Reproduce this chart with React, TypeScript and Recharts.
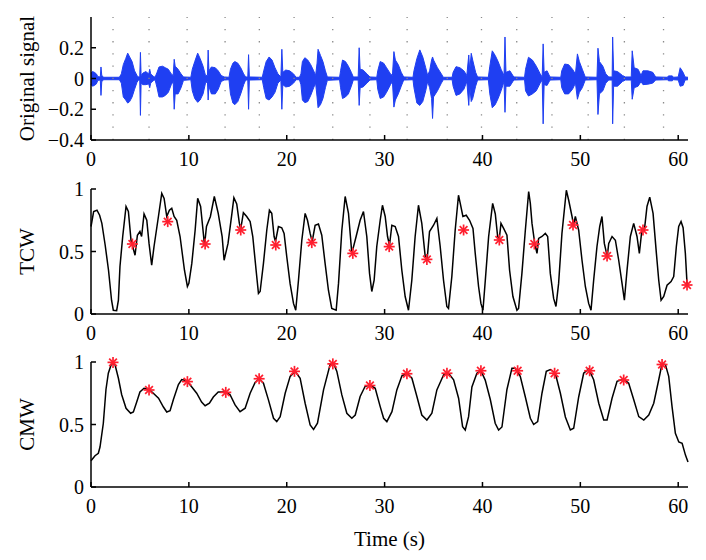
import React from "react";
import { ComposedChart, Line, Area, Scatter, XAxis, YAxis, ReferenceLine } from "recharts";

const FONT = "'Liberation Serif', 'Times New Roman', serif";
const BLUE = "#1f3ff2";
const RED = "#ff1f2f";

const timeTicks = [0, 10, 20, 30, 40, 50, 60];
const signalTicks = [-0.4, -0.2, 0, 0.2];
const unitTicks = [0, 0.5, 1];

// dotted guide lines in the top panel (s)
const gridTimes = [2.25, 5.93, 9.82, 13.7, 17.2, 20.75, 24.7, 28.5, 32.3, 36.4, 39.9, 43.5, 47.1, 50.8, 54.5, 58.5];

// [time, upper envelope, lower envelope]
const signalEnvelope: [number, number, number][] = [
  [0, 0.035, -0.04], [0.15, 0.045, -0.05], [0.35, 0.04, -0.045], [0.55, 0.03, -0.035], [0.7, 0.012, -0.012],
  [0.95, 0.01, -0.01], [1.02, 0.075, -0.11], [1.1, 0.02, -0.02], [1.3, 0.008, -0.008], [2.9, 0.008, -0.008],
  [3.1, 0.03, -0.03], [3.3, 0.09, -0.12], [3.55, 0.13, -0.14], [3.75, 0.165, -0.16], [3.95, 0.14, -0.15],
  [4.2, 0.11, -0.12], [4.45, 0.05, -0.07], [4.7, 0.02, -0.025], [4.85, 0.01, -0.01], [4.98, 0.01, -0.01],
  [5.05, 0.17, -0.24], [5.12, 0.02, -0.03], [5.3, 0.035, -0.04], [5.6, 0.045, -0.04], [5.9, 0.03, -0.035],
  [6.0, 0.06, -0.06], [6.1, 0.03, -0.03], [6.35, 0.015, -0.015], [6.55, 0.008, -0.008],
  [6.75, 0.04, -0.06], [6.95, 0.075, -0.12], [7.3, 0.08, -0.12], [7.6, 0.07, -0.11], [7.9, 0.06, -0.09],
  [8.2, 0.03, -0.04], [8.4, 0.02, -0.02], [8.5, 0.125, -0.2], [8.6, 0.08, -0.1], [8.9, 0.06, -0.1],
  [9.2, 0.03, -0.06], [9.45, 0.01, -0.012], [10.2, 0.008, -0.008],
  [10.35, 0.06, -0.08], [10.6, 0.11, -0.13], [10.9, 0.165, -0.155], [11.15, 0.13, -0.14], [11.45, 0.08, -0.1],
  [11.7, 0.02, -0.03], [11.9, 0.02, -0.02], [11.97, 0.185, -0.14], [12.05, 0.05, -0.05], [12.3, 0.075, -0.1],
  [12.7, 0.07, -0.1], [13.0, 0.05, -0.07], [13.3, 0.02, -0.02], [13.6, 0.01, -0.01], [14.1, 0.008, -0.008],
  [14.25, 0.06, -0.1], [14.5, 0.1, -0.16], [14.7, 0.11, -0.17], [15.0, 0.1, -0.15], [15.3, 0.07, -0.1],
  [15.6, 0.03, -0.04], [15.8, 0.01, -0.01], [16.02, 0.01, -0.01], [16.1, 0.155, -0.2], [16.18, 0.01, -0.01],
  [17.5, 0.008, -0.008],
  [17.65, 0.05, -0.06], [17.9, 0.11, -0.13], [18.2, 0.14, -0.14], [18.5, 0.12, -0.12], [18.8, 0.07, -0.09],
  [19.1, 0.03, -0.03], [19.4, 0.01, -0.01], [19.5, 0.19, -0.2], [19.6, 0.04, -0.04], [19.9, 0.055, -0.055],
  [20.3, 0.05, -0.05], [20.7, 0.03, -0.03], [20.95, 0.008, -0.008], [21.3, 0.008, -0.008],
  [21.45, 0.03, -0.04], [21.6, 0.11, -0.14], [21.85, 0.135, -0.157], [22.15, 0.12, -0.15], [22.45, 0.09, -0.11],
  [22.75, 0.05, -0.06], [22.95, 0.02, -0.03], [23.1, 0.1, -0.12], [23.2, 0.19, -0.19], [23.45, 0.15, -0.17],
  [23.7, 0.11, -0.13], [23.95, 0.05, -0.06], [24.15, 0.01, -0.012], [25.4, 0.008, -0.008],
  [25.5, 0.05, -0.06], [25.7, 0.12, -0.13], [26.0, 0.11, -0.12], [26.3, 0.08, -0.1], [26.6, 0.04, -0.05],
  [26.8, 0.01, -0.01], [27.3, 0.01, -0.01], [27.4, 0.2, -0.175], [27.5, 0.06, -0.06], [27.8, 0.055, -0.055],
  [28.2, 0.03, -0.03], [28.5, 0.01, -0.01], [29.2, 0.008, -0.008],
  [29.3, 0.05, -0.07], [29.55, 0.11, -0.13], [29.9, 0.1, -0.12], [30.2, 0.07, -0.09], [30.6, 0.03, -0.04],
  [30.8, 0.02, -0.02], [30.95, 0.175, -0.186], [31.1, 0.12, -0.14], [31.4, 0.09, -0.1], [31.7, 0.04, -0.05],
  [31.95, 0.01, -0.01], [32.9, 0.008, -0.008],
  [33.0, 0.05, -0.06], [33.3, 0.13, -0.16], [33.6, 0.186, -0.175], [33.9, 0.14, -0.15], [34.2, 0.07, -0.08],
  [34.4, 0.02, -0.02], [34.6, 0.05, -0.06], [34.8, 0.12, -0.13], [34.9, 0.14, -0.26], [35.0, 0.12, -0.12],
  [35.4, 0.07, -0.08], [35.8, 0.03, -0.03], [36.0, 0.008, -0.008], [36.9, 0.008, -0.008],
  [37.0, 0.04, -0.05], [37.3, 0.077, -0.11], [37.7, 0.07, -0.1], [38.1, 0.05, -0.07], [38.4, 0.02, -0.02],
  [38.6, 0.153, -0.175], [38.7, 0.05, -0.05], [38.85, 0.164, -0.15], [39.0, 0.12, -0.13], [39.3, 0.04, -0.05],
  [39.5, 0.01, -0.01], [40.6, 0.008, -0.008],
  [40.75, 0.08, -0.1], [41.0, 0.18, -0.19], [41.3, 0.15, -0.17], [41.6, 0.11, -0.13], [41.9, 0.06, -0.08],
  [42.2, 0.02, -0.02], [42.3, 0.27, -0.22], [42.4, 0.04, -0.05], [42.8, 0.05, -0.05], [43.2, 0.01, -0.01],
  [44.3, 0.008, -0.008],
  [44.4, 0.06, -0.08], [44.7, 0.138, -0.114], [45.1, 0.12, -0.1], [45.5, 0.08, -0.08], [45.9, 0.03, -0.03],
  [46.1, 0.01, -0.01], [46.2, 0.225, -0.295], [46.3, 0.04, -0.04], [46.6, 0.05, -0.045], [46.9, 0.01, -0.01],
  [48.0, 0.008, -0.008],
  [48.1, 0.05, -0.06], [48.4, 0.094, -0.1], [48.8, 0.09, -0.1], [49.2, 0.06, -0.07], [49.5, 0.03, -0.03],
  [49.7, 0.16, -0.135], [49.9, 0.11, -0.09], [50.2, 0.06, -0.06], [50.5, 0.01, -0.01], [51.7, 0.008, -0.008],
  [51.8, 0.197, -0.234], [51.95, 0.11, -0.1], [52.3, 0.08, -0.08], [52.6, 0.03, -0.03], [52.9, 0.01, -0.01],
  [53.25, 0.01, -0.01], [53.3, 0.27, -0.295], [53.4, 0.05, -0.05], [53.8, 0.045, -0.05], [54.3, 0.02, -0.02],
  [54.6, 0.01, -0.01], [55.2, 0.01, -0.01], [55.3, 0.18, -0.135], [55.5, 0.07, -0.06], [55.9, 0.06, -0.05],
  [56.2, 0.02, -0.02], [56.4, 0.05, -0.04], [56.9, 0.05, -0.037], [57.4, 0.04, -0.03], [57.7, 0.01, -0.01],
  [58.9, 0.008, -0.008], [59.0, 0.017, -0.015], [59.4, 0.017, -0.015], [59.5, 0.008, -0.008],
  [60.0, 0.01, -0.01], [60.2, 0.07, -0.05], [60.5, 0.04, -0.045], [60.7, 0.01, -0.01], [61, 0.008, -0.008],
];

const tcwCurve: [number, number][] = [
  [0, 0.7], [0.27, 0.82], [0.61, 0.83], [0.88, 0.79], [1.11, 0.725], [1.45, 0.55], [1.79, 0.35], [2.1, 0.11],
  [2.28, 0.03], [2.62, 0.027], [2.8, 0.11], [2.96, 0.38], [3.24, 0.62], [3.58, 0.86], [3.82, 0.82], [4.09, 0.59],
  [4.5, 0.47], [4.74, 0.63], [5.0, 0.66], [5.17, 0.62], [5.42, 0.8], [5.7, 0.75], [5.93, 0.565], [6.2, 0.39],
  [6.44, 0.54], [6.89, 0.78], [7.23, 0.965], [7.47, 0.925], [7.74, 0.78], [8.01, 0.83], [8.25, 0.845],
  [8.49, 0.78], [8.76, 0.75], [9.1, 0.62], [9.55, 0.35], [9.85, 0.22], [10.0, 0.245], [10.3, 0.405],
  [10.64, 0.67], [10.9, 0.925], [11.2, 0.86], [11.6, 0.55], [11.8, 0.7], [12.2, 0.78], [12.6, 0.94],
  [13.0, 0.805], [13.4, 0.62], [13.6, 0.43], [14.0, 0.565], [14.4, 0.805], [14.6, 0.93], [14.89, 0.88],
  [15.16, 0.725], [15.3, 0.68], [15.57, 0.81], [15.91, 0.78], [16.26, 0.74], [16.53, 0.62], [16.87, 0.35],
  [17.11, 0.165], [17.28, 0.18], [17.62, 0.405], [17.96, 0.67], [18.23, 0.83], [18.47, 0.805], [18.71, 0.62],
  [18.85, 0.58], [19.15, 0.7], [19.49, 0.69], [19.73, 0.645], [20.0, 0.46], [20.34, 0.245], [20.69, 0.085],
  [20.92, 0.03], [21.2, 0.27], [21.54, 0.59], [21.88, 0.805], [22.12, 0.75], [22.39, 0.645], [22.6, 0.58],
  [22.9, 0.71], [23.24, 0.72], [23.58, 0.63], [23.92, 0.405], [24.26, 0.19], [24.6, 0.045], [25.05, 0.03],
  [25.29, 0.245], [25.63, 0.67], [25.97, 0.94], [26.31, 0.805], [26.65, 0.485], [27.09, 0.62], [27.5, 0.75],
  [27.84, 0.82], [28.18, 0.62], [28.46, 0.325], [28.69, 0.18], [28.93, 0.27], [29.2, 0.54], [29.55, 0.75],
  [29.78, 0.87], [30.06, 0.78], [30.3, 0.62], [30.5, 0.55], [30.74, 0.71], [31.08, 0.7], [31.42, 0.62],
  [31.76, 0.35], [32.1, 0.14], [32.44, 0.03], [32.78, 0.27], [33.12, 0.62], [33.46, 0.87], [33.8, 0.725],
  [34.15, 0.46], [34.35, 0.44], [34.59, 0.66], [35.0, 0.71], [35.34, 0.765], [35.68, 0.54], [36.02, 0.27],
  [36.36, 0.06], [36.53, 0.045], [36.87, 0.3], [37.21, 0.67], [37.55, 0.95], [37.73, 0.885], [38.0, 0.78],
  [38.34, 0.79], [38.68, 0.75], [39.03, 0.685], [39.26, 0.485], [39.6, 0.22], [39.84, 0.085], [40.05, 0.03],
  [40.29, 0.27], [40.63, 0.62], [41.04, 0.885], [41.31, 0.8], [41.55, 0.62], [41.7, 0.59], [41.89, 0.725],
  [42.16, 0.685], [42.5, 0.63], [42.77, 0.35], [43.11, 0.14], [43.52, 0.03], [43.69, 0.045], [44.03, 0.325],
  [44.38, 0.67], [44.72, 0.98], [44.89, 0.885], [45.06, 0.725], [45.35, 0.56], [45.57, 0.485], [45.74, 0.605],
  [46.08, 0.62], [46.42, 0.645], [46.66, 0.62], [46.93, 0.325], [47.27, 0.125], [47.51, 0.06], [47.78, 0.245],
  [48.12, 0.645], [48.57, 0.99], [48.81, 0.91], [49.15, 0.78], [49.3, 0.71], [49.49, 0.78], [49.83, 0.67],
  [50.17, 0.43], [50.51, 0.22], [50.85, 0.085], [51.09, 0.03], [51.36, 0.27], [51.7, 0.54], [51.98, 0.7],
  [52.21, 0.78], [52.45, 0.565], [52.75, 0.46], [52.9, 0.565], [53.24, 0.62], [53.58, 0.59], [53.92, 0.43],
  [54.26, 0.245], [54.5, 0.11], [54.77, 0.35], [55.11, 0.62], [55.45, 0.725], [55.79, 0.62], [56.03, 0.485],
  [56.3, 0.68], [56.54, 0.67], [56.81, 0.86], [57.09, 0.935], [57.43, 0.805], [57.77, 0.485], [58.01, 0.27],
  [58.25, 0.11], [58.52, 0.14], [58.86, 0.23], [59.27, 0.26], [59.54, 0.3], [59.81, 0.54], [60.05, 0.7],
  [60.29, 0.74], [60.5, 0.69], [60.73, 0.485], [60.9, 0.245], [61.0, 0.23],
];

const tcwMarks: [number, number][] = [
  [4.23, 0.56], [7.84, 0.739], [11.66, 0.56], [15.3, 0.672], [18.88, 0.552], [22.56, 0.571], [26.75, 0.485],
  [30.47, 0.539], [34.32, 0.437], [38.07, 0.672], [41.72, 0.592], [45.3, 0.56], [49.25, 0.712], [52.73, 0.464],
  [56.4, 0.672], [60.9, 0.232],
];

const cmwCurve: [number, number][] = [
  [0, 0.21], [0.41, 0.25], [0.75, 0.27], [0.92, 0.32], [1.26, 0.51], [1.53, 0.78], [1.77, 0.91], [2.11, 0.99],
  [2.45, 0.98], [2.8, 0.87], [3.13, 0.74], [3.58, 0.63], [4.05, 0.59], [4.33, 0.6], [4.67, 0.68], [5.0, 0.76],
  [5.42, 0.79], [5.93, 0.78], [6.37, 0.75], [6.9, 0.71], [7.4, 0.64], [7.74, 0.6], [8.08, 0.61], [8.42, 0.7],
  [8.93, 0.82], [9.27, 0.86], [9.78, 0.85], [10.3, 0.8], [10.8, 0.75], [11.3, 0.68], [11.66, 0.65], [12.1, 0.67],
  [12.5, 0.72], [13.0, 0.76], [13.7, 0.76], [14.2, 0.74], [14.72, 0.657], [15.23, 0.603], [15.75, 0.63],
  [16.26, 0.75], [16.77, 0.836], [17.18, 0.866], [17.62, 0.83], [18.13, 0.697], [18.65, 0.55], [18.98, 0.523],
  [19.33, 0.563], [19.84, 0.75], [20.35, 0.885], [20.86, 0.925], [21.37, 0.87], [21.88, 0.67], [22.39, 0.496],
  [22.74, 0.461], [23.14, 0.51], [23.76, 0.777], [24.43, 0.98], [24.78, 0.99], [25.12, 0.925], [25.63, 0.737],
  [26.14, 0.59], [26.65, 0.55], [27.0, 0.576], [27.5, 0.724], [28.0, 0.804], [28.5, 0.818], [29.04, 0.79],
  [29.55, 0.643], [29.9, 0.55], [30.23, 0.523], [30.75, 0.603], [31.25, 0.777], [31.77, 0.89], [32.28, 0.91],
  [32.79, 0.87], [33.3, 0.724], [33.8, 0.576], [34.32, 0.536], [34.83, 0.59], [35.34, 0.777], [36.03, 0.898],
  [36.54, 0.91], [37.05, 0.858], [37.56, 0.71], [37.97, 0.483], [38.24, 0.456], [38.58, 0.563], [38.92, 0.8],
  [39.43, 0.91], [39.84, 0.93], [40.28, 0.855], [40.8, 0.7], [41.3, 0.51], [41.65, 0.456], [41.99, 0.48],
  [42.5, 0.78], [43.01, 0.95], [43.35, 0.95], [43.86, 0.885], [44.38, 0.72], [44.89, 0.55], [45.23, 0.5],
  [45.64, 0.523], [46.08, 0.75], [46.52, 0.925], [46.93, 0.94], [47.44, 0.91], [47.96, 0.75], [48.47, 0.56],
  [48.98, 0.456], [49.32, 0.47], [49.83, 0.72], [50.34, 0.91], [50.85, 0.944], [51.36, 0.858], [51.88, 0.67],
  [52.39, 0.536], [52.73, 0.536], [53.24, 0.71], [53.75, 0.845], [54.43, 0.863], [54.94, 0.83], [55.45, 0.7],
  [55.97, 0.563], [56.48, 0.536], [56.99, 0.576], [57.5, 0.67], [58.01, 0.858], [58.35, 0.987], [58.69, 0.98],
  [59.03, 0.885], [59.37, 0.643], [59.71, 0.43], [60.06, 0.36], [60.4, 0.35], [60.74, 0.255], [61.0, 0.2],
];

const cmwMarks: [number, number][] = [
  [2.25, 0.997], [5.93, 0.776], [9.85, 0.843], [13.77, 0.757], [17.18, 0.866], [20.79, 0.925], [24.71, 0.985],
  [28.5, 0.812], [32.28, 0.906], [36.37, 0.91], [39.84, 0.93], [43.59, 0.93], [47.37, 0.91], [50.95, 0.93],
  [54.43, 0.856], [58.35, 0.98],
];

const toPoints = (arr: [number, number][]) => arr.map(([t, v]) => ({ t, v }));
const signalData = signalEnvelope.map(([t, hi, lo]) => ({ t, r: [lo, hi] }));

const axisLine = { stroke: "#000", strokeWidth: 1.5 };
const tickStyle = { fill: "#000", fontSize: 20, fontFamily: FONT };
const fmtTick = (v: number) => String(v).replace("-", "\u2212");

const Asterisk = (p: any) => {
  const { cx, cy } = p;
  if (cx == null || cy == null) return null;
  const r = 5.5;
  const d = r * 0.7;
  return (
    <g stroke={RED} strokeWidth={1.7}>
      <line x1={cx - r} y1={cy} x2={cx + r} y2={cy} />
      <line x1={cx} y1={cy - r} x2={cx} y2={cy + r} />
      <line x1={cx - d} y1={cy - d} x2={cx + d} y2={cy + d} />
      <line x1={cx - d} y1={cy + d} x2={cx + d} y2={cy - d} />
    </g>
  );
};

const yLabel = (text: string) => ({
  content: (p: any) => {
    const vb = p.viewBox || {};
    const cx = vb.x + 27;
    const cy = vb.y + vb.height / 2;
    return (
      <text x={cx} y={cy} transform={`rotate(-90 ${cx} ${cy})`} textAnchor="middle" dominantBaseline="central"
        fontSize={21} fontFamily={FONT} fill="#000">
        {text}
      </text>
    );
  },
});

function Panel(props: {
  top: number; height: number; marginTop: number; xHeight: number;
  yDomain: [number, number]; yTicks: number[]; label: string; xLabel?: string; children: React.ReactNode;
}) {
  const { top, height, marginTop, xHeight, yDomain, yTicks, label, xLabel, children } = props;
  return (
    <div style={{ position: "absolute", left: 0, top, width: 706, height }}>
      <ComposedChart width={706} height={height} margin={{ top: marginTop, right: 18, bottom: 0, left: 0 }}>
        <XAxis xAxisId="b" dataKey="t" type="number" domain={[0, 61]} ticks={timeTicks} interval={0}
          height={xHeight} tickSize={-5} tickMargin={17} axisLine={axisLine} tickLine={axisLine} tick={tickStyle}
          label={xLabel ? { value: xLabel, position: "insideBottom", offset: 14, fontSize: 21, fontFamily: FONT, fill: "#000" } : undefined} />
        <XAxis xAxisId="t" orientation="top" dataKey="t" type="number" domain={[0, 61]} ticks={timeTicks}
          interval={0} height={0} tickSize={-5} axisLine={axisLine} tickLine={axisLine} tick={false} />
        <YAxis yAxisId="l" type="number" domain={yDomain} ticks={yTicks} interval={0} width={91}
          tickSize={-5} tickMargin={12} axisLine={axisLine} tickLine={axisLine} tick={tickStyle}
          tickFormatter={fmtTick} label={yLabel(label)} />
        <YAxis yAxisId="r" orientation="right" type="number" domain={yDomain} ticks={yTicks} interval={0} width={0}
          tickSize={-5} axisLine={axisLine} tickLine={axisLine} tick={false} />
        {children}
      </ComposedChart>
    </div>
  );
}

export default function App() {
  return (
    <div style={{ position: "absolute", left: 0, top: 0, width: 706, height: 560, background: "#fff" }}>
      <Panel top={0} height={180} marginTop={17} xHeight={40} yDomain={[-0.4, 0.4]} yTicks={signalTicks} label="Original signal">
        {gridTimes.map((t) => (
          <ReferenceLine key={t} xAxisId="b" yAxisId="l" x={t} stroke="#8a8a8a" strokeWidth={1.3} strokeDasharray="1.3 10.9" />
        ))}
        <Area xAxisId="b" yAxisId="l" data={signalData} dataKey="r" type="linear" stroke={BLUE} strokeWidth={1}
          fill={BLUE} fillOpacity={1} dot={false} activeDot={false} isAnimationActive={false} />
      </Panel>
      <Panel top={175} height={175} marginTop={14} xHeight={36} yDomain={[0, 1]} yTicks={unitTicks} label="TCW">
        <Line xAxisId="b" yAxisId="l" data={toPoints(tcwCurve)} dataKey="v" type="linear" stroke="#000"
          strokeWidth={1.5} dot={false} activeDot={false} isAnimationActive={false} />
        <Scatter xAxisId="b" yAxisId="l" data={toPoints(tcwMarks)} dataKey="v" shape={Asterisk} isAnimationActive={false} />
      </Panel>
      <Panel top={350} height={210} marginTop={12} xHeight={73} yDomain={[0, 1]} yTicks={unitTicks} label="CMW" xLabel="Time (s)">
        <Line xAxisId="b" yAxisId="l" data={toPoints(cmwCurve)} dataKey="v" type="linear" stroke="#000"
          strokeWidth={1.5} dot={false} activeDot={false} isAnimationActive={false} />
        <Scatter xAxisId="b" yAxisId="l" data={toPoints(cmwMarks)} dataKey="v" shape={Asterisk} isAnimationActive={false} />
      </Panel>
    </div>
  );
}
